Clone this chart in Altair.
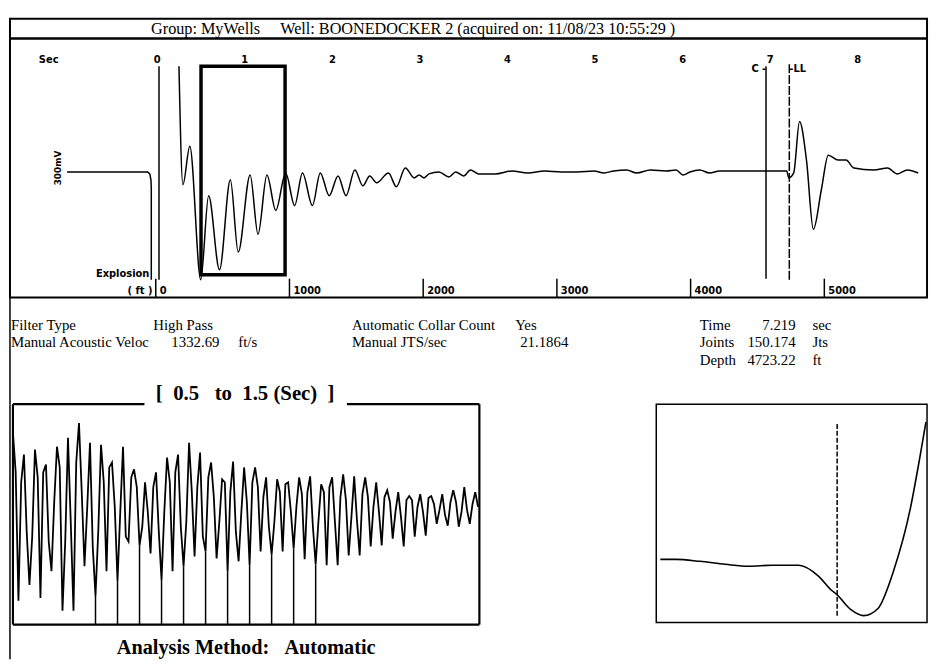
import altair as alt
import pandas as pd

SERIF = "Liberation Serif"
SANS = "DejaVu Sans"
NB = "\u00a0"

# ---------------- texts ----------------
header_text = "Group: MyWells" + NB * 5 + "Well: BOONEDOCKER 2 (acquired on: 11/08/23 10:55:29 )"
window_title = "[" + NB * 2 + "0.5" + NB * 3 + "to" + NB * 2 + "1.5" + NB + "(Sec)" + NB * 2 + "]"
method_title = "Analysis Method:" + NB * 3 + "Automatic"

info_text = ["Filter Type", "High Pass", "Automatic Collar Count", "Yes", "Time", "7.219", "sec",
             "Manual Acoustic Veloc", "1332.69", "ft/s", "Manual JTS/sec", "21.1864", "Joints", "150.174", "Jts",
             "Depth", "4723.22", "ft"]
info_col = [1, 145, 346, 533, 698, 795, 812, 1, 212, 231, 346, 565, 698, 795, 812, 698, 795, 812]
info_row = [28, 28, 28, 28, 28, 28, 28, 45, 45, 45, 45, 45, 45, 45, 45, 63, 63, 63]
info_align = ["left", "left", "left", "right", "left", "right", "left",
              "left", "right", "left", "left", "right", "left", "right", "left",
              "left", "right", "left"]

# ---------------- top acoustic trace (sec, mV-ish) ----------------
top_t = [0.248, 0.293, 0.372, 0.497, 0.587, 0.711, 0.835, 0.925, 1.061, 1.151,
         1.253, 1.354, 1.467, 1.569, 1.659, 1.772, 1.862, 1.964, 2.065, 2.156,
         2.257, 2.348, 2.427, 2.506, 2.641, 2.731, 2.833, 2.935, 2.991, 3.047,
         3.104, 3.217, 3.330, 3.409, 3.499, 3.578, 3.668, 3.860, 4.052, 4.233,
         4.424, 4.616, 4.797, 4.989, 5.102, 5.214, 5.361, 5.474, 5.632, 5.813,
         5.926, 6.005, 6.084, 6.196, 6.309, 6.422, 6.682, 6.941, 7.190, 7.212,
         7.269, 7.336, 7.415, 7.494, 7.585, 7.664, 7.777, 7.867, 7.957, 8.183,
         8.341, 8.454, 8.567, 8.691]
top_v = [107, -13, 26, -109, -24, -99, -8, -81, -3, -63,
         -3, -39, -1, -34, -1, -34, -1, -24, -4, -24,
         2, -14, -4, -11, -1, -15, 4, -6, -3, -6,
         -2, 0, -5, 0, -4, 2, -2, -2, 1, -1,
         1, 0, 0, 1, -1, 1, 2, -1, 2, 1,
         2, -3, 0, 2, -1, 1, 1, 1, 1, -6,
         -1, 51, 12, -58, -18, 17, 12, 12, 4, 2,
         4, -2, 2, -1]

expl_t = [-1.03, -0.11, -0.085, -0.072, -0.068, -0.068]
expl_v = [0, 0, -2, -8, -16, -109]

sec_ticks = [0, 1, 2, 3, 4, 5, 6, 7, 8]
depth_ticks = [0, 1000, 2000, 3000, 4000, 5000]
depth_ft_per_sec = 654.8     # depth scale of the lower axis
depth_offset_sec = -0.017

mark_t = [0.02, 6.953, 7.219]
mark_top = [107, 107, 109]
mark_bot = [-109, -108, -109]
mark_kind = ["solid", "solid", "dash"]

win_start, win_end = 0.5, 1.46

# ---------------- zoomed window trace (0.5 to 1.5 s) ----------------
lo_dt = 0.0472 / 8
lo_peaks = [80, 58, 63, 48, 66, 75, 90, 70, 68, 50, 66, 43, 30, 40, 55, 58, 70, 60, 50, 33,
            51, 45, 45, 35, 33, 30, 35, 36, 28, 35, 38, 36, 35, 30, 22, 20, 16, 18, 16, 18,
            22, 25, 20]
lo_mid_down = [40, -20, 35, -30, 45, -10, 20, -35, 30, 5, -25, 25, 0,
               -20, 30, -15, 20, -25, 15, 30, -20, 10, 25, -15, 20, 0, 18, -15, 20, -10,
               12, -8, 15, 0, 10, -5, 12, 0, 8, -3, 10, 2, 5]
lo_troughs = [-90, -74, -87, -60, -100, -100, -55, -85, -60, -70, -30, -34, -42, -69, -60,
              -55, -45, -40, -47, -60, -50, -54, -40, -43, -40, -37, -48, -53, -54, -54,
              -44, -44, -35, -34, -27, -35, -25, -24, -12, -14, -15, -12]
lo_mid_up = [30, -25, 40, 10, -30, 50, 5, -20, 45, 0, 35, -15,
             25, 0, 40, -10, 25, 35, -10, 20, 0, 30, 15, -10, 28, 5, 20, -10, 25,
             15, -5, 18, 5, 15, 0, 12, 5, 14, 2, 10, 0, 8]
collar_idx = [30, 38, 46, 54, 62, 70, 78, 86, 94, 102, 110]

# ---------------- right small panel ----------------
rc_x = [0.015, 0.073, 0.161, 0.255, 0.343, 0.427, 0.526, 0.599, 0.646, 0.668, 0.719, 0.766,
        0.818, 0.876, 0.938, 0.974, 0.996]
rc_y = [64, 64, 62, 59, 57, 58, 58, 47, 33, 28, 13, 7, 14, 52, 115, 168, 203]
rc_mark = 0.668

# =====================================================================
W = 928

header = alt.Chart(pd.DataFrame({"text": [header_text]})).mark_text(
    font=SERIF, fontSize=16.4, baseline="middle", align="center", color="black"
).encode(x=alt.value(408), y=alt.value(10), text="text:N").properties(
    width=W, height=20, view=alt.ViewBackground(stroke="black", strokeWidth=2))

# ---- top panel ----
XS = alt.Scale(domain=[-1.682, 8.792], nice=False, zero=False)
YS = alt.Scale(domain=[-127, 135], nice=False, zero=False)


def xs(f):
    return alt.X(f, scale=XS, axis=None)


def ys(f):
    return alt.Y(f, scale=YS, axis=None)


trace = alt.Chart(pd.DataFrame({"t": top_t, "v": top_v})).mark_line(
    color="black", strokeWidth=1.5, interpolate="monotone").encode(x=xs("t:Q"), y=ys("v:Q"))

expl = alt.Chart(pd.DataFrame({"t": expl_t, "v": expl_v, "k": list(range(len(expl_t)))})).mark_line(
    color="black", strokeWidth=1.5).encode(x=xs("t:Q"), y=ys("v:Q"), order="k:Q")

mk_df = pd.DataFrame({"t": mark_t, "top": mark_top, "bot": mark_bot, "kind": mark_kind})
mk_solid = alt.Chart(mk_df).transform_filter("datum.kind == 'solid'").mark_rule(
    color="black", strokeWidth=1.5).encode(x=xs("t:Q"), y=ys("top:Q"), y2="bot:Q")
mk_dash = alt.Chart(mk_df).transform_filter("datum.kind == 'dash'").mark_rule(
    color="black", strokeWidth=1.5, strokeDash=[9, 2]).encode(x=xs("t:Q"), y=ys("top:Q"), y2="bot:Q")

box = alt.Chart(pd.DataFrame({"a": [win_start], "b": [win_end], "top": [107], "bot": [-104]})).mark_rect(
    fill="transparent", stroke="black", strokeWidth=3.5).encode(x=xs("a:Q"), x2="b:Q", y=ys("top:Q"), y2="bot:Q")

sec_lab = alt.Chart(pd.DataFrame({"t": sec_ticks, "s": [str(s) for s in sec_ticks],
                                  "v": [113] * len(sec_ticks)})).mark_text(
    font=SANS, fontWeight="bold", fontSize=10, baseline="middle").encode(
    x=xs("t:Q"), y=ys("v:Q"), text="s:N")

small_txt = pd.DataFrame({
    "t": [-1.24, -0.09, 6.955, 7.219, -0.055],
    "v": [113, -103, 104, 104, -120],
    "s": ["Sec", "Explosion", "C -", "-LL", "( ft )"],
    "al": ["center", "right", "right", "left", "right"],
})
st_c = alt.Chart(small_txt).transform_filter("datum.al == 'center'").mark_text(
    font=SANS, fontWeight="bold", fontSize=10, baseline="middle", align="center").encode(
    x=xs("t:Q"), y=ys("v:Q"), text="s:N")
st_r = alt.Chart(small_txt).transform_filter("datum.al == 'right'").mark_text(
    font=SANS, fontWeight="bold", fontSize=10, baseline="middle", align="right").encode(
    x=xs("t:Q"), y=ys("v:Q"), text="s:N")
st_l = alt.Chart(small_txt).transform_filter("datum.al == 'left'").mark_text(
    font=SANS, fontWeight="bold", fontSize=10, baseline="middle", align="left").encode(
    x=xs("t:Q"), y=ys("v:Q"), text="s:N")

mv_lab = alt.Chart(pd.DataFrame({"t": [-1.13], "v": [4], "s": ["300mV"]})).mark_text(
    font=SANS, fontWeight="bold", fontSize=9, angle=270, baseline="middle", align="center").encode(
    x=xs("t:Q"), y=ys("v:Q"), text="s:N")

depth_df = pd.DataFrame({"d": depth_ticks, "s": [str(d) for d in depth_ticks],
                         "ta": [-108] * len(depth_ticks), "tb": [-127] * len(depth_ticks),
                         "ly": [-120] * len(depth_ticks)})
depth_base = alt.Chart(depth_df).transform_calculate(
    td=f"datum.d / {depth_ft_per_sec} + ({depth_offset_sec})")
depth_rule = depth_base.mark_rule(color="black", strokeWidth=1.5).encode(
    x=xs("td:Q"), y=ys("ta:Q"), y2="tb:Q")
depth_lab = depth_base.mark_text(
    font=SANS, fontWeight="bold", fontSize=10, baseline="middle", align="left", dx=4).encode(
    x=xs("td:Q"), y=ys("ly:Q"), text="s:N")

top = alt.layer(trace, expl, mk_solid, mk_dash, box, sec_lab, st_c, st_r, st_l, mv_lab,
                depth_rule, depth_lab).properties(
    width=W, height=262, view=alt.ViewBackground(stroke="black", strokeWidth=2))

# ---- info block ----
IX = alt.Scale(domain=[0, W], nice=False, zero=False)
IY = alt.Scale(domain=[0, 108], nice=False, zero=False, reverse=True)
info_df = pd.DataFrame({"s": info_text, "x": info_col, "y": info_row, "al": info_align})
info_l = alt.Chart(info_df).transform_filter("datum.al == 'left'").mark_text(
    font=SERIF, fontSize=15, baseline="middle", align="left", color="black").encode(
    x=alt.X("x:Q", scale=IX, axis=None), y=alt.Y("y:Q", scale=IY, axis=None), text="s:N")
info_r = alt.Chart(info_df).transform_filter("datum.al == 'right'").mark_text(
    font=SERIF, fontSize=15, baseline="middle", align="right", color="black").encode(
    x=alt.X("x:Q", scale=IX, axis=None), y=alt.Y("y:Q", scale=IY, axis=None), text="s:N")
win_lab = alt.Chart(pd.DataFrame({"x": [238], "y": [98], "s": [window_title]})).mark_text(
    font=SERIF, fontSize=21, fontWeight="bold", baseline="middle", align="center").encode(
    x=alt.X("x:Q", scale=IX, axis=None), y=alt.Y("y:Q", scale=IY, axis=None), text="s:N")
info_edge = alt.Chart(pd.DataFrame({"x": [0], "y": [0], "y2": [108]})).mark_rule(
    color="black", strokeWidth=1.5).encode(
    x=alt.X("x:Q", scale=IX, axis=None), y=alt.Y("y:Q", scale=IY, axis=None), y2="y2:Q")
info = alt.layer(info_edge, info_l, info_r, win_lab).properties(width=W, height=108)

# ---- bottom left window panel ----
lo_v = []
for k in range(len(lo_peaks)):
    lo_v.append(lo_peaks[k])
    lo_v.append(lo_mid_down[k])
    if k < len(lo_troughs):
        lo_v.append(lo_troughs[k])
        lo_v.append(lo_mid_up[k])
lo_t = [0.5 + i * lo_dt for i in range(len(lo_v))]
LX = alt.Scale(domain=[0.5, 1.5], nice=False, zero=False)
LY = alt.Scale(domain=[-114, 109], nice=False, zero=False)

lo_line = alt.Chart(pd.DataFrame({"t": lo_t, "v": lo_v})).mark_line(
    color="black", strokeWidth=1.8).encode(
    x=alt.X("t:Q", scale=LX, axis=None), y=alt.Y("v:Q", scale=LY, axis=None))
collar_df = pd.DataFrame({"t": [lo_t[i] for i in collar_idx], "top": [lo_v[i] for i in collar_idx],
                          "bot": [-114] * len(collar_idx)})
collars = alt.Chart(collar_df).mark_rule(color="black", strokeWidth=1.5).encode(
    x=alt.X("t:Q", scale=LX, axis=None), y=alt.Y("top:Q", scale=LY, axis=None), y2="bot:Q")
frame_df = pd.DataFrame({"x": [0.5, 1.5, 0.5, 0.5, 1.216], "x2": [0.5, 1.5, 1.5, 0.782, 1.5],
                         "y": [-114, -114, -114, 109, 109], "y2": [109, 109, -114, 109, 109]})
frame = alt.Chart(frame_df).mark_rule(color="black", strokeWidth=2.2).encode(
    x=alt.X("x:Q", scale=LX, axis=None), x2="x2:Q",
    y=alt.Y("y:Q", scale=LY, axis=None), y2="y2:Q")
left = alt.layer(lo_line, collars, frame).properties(
    width=472, height=223,
    title=alt.TitleParams(method_title, orient="bottom", anchor="middle", font=SERIF,
                          fontSize=20.5, fontWeight="bold", color="black", offset=13))

# ---- bottom right panel ----
RX = alt.Scale(domain=[0, 1], nice=False, zero=False)
RY = alt.Scale(domain=[0, 221], nice=False, zero=False)
rc_line = alt.Chart(pd.DataFrame({"x": rc_x, "y": rc_y})).mark_line(
    color="black", strokeWidth=1.6, interpolate="monotone").encode(
    x=alt.X("x:Q", scale=RX, axis=None), y=alt.Y("y:Q", scale=RY, axis=None))
rc_rule = alt.Chart(pd.DataFrame({"x": [rc_mark], "a": [7], "b": [203]})).mark_rule(
    color="black", strokeWidth=1.5, strokeDash=[5, 2]).encode(
    x=alt.X("x:Q", scale=RX, axis=None), y=alt.Y("a:Q", scale=RY, axis=None), y2="b:Q")
right = alt.layer(rc_line, rc_rule).properties(
    width=274, height=221, view=alt.ViewBackground(stroke="black", strokeWidth=1.5))

# ---- spacers ----
SY = alt.Scale(domain=[0, 258], nice=False, zero=False)
sp1 = alt.Chart(pd.DataFrame({"x": [0], "y": [0], "y2": [258]})).mark_rule(
    color="black", strokeWidth=1.5).encode(
    x=alt.X("x:Q", scale=alt.Scale(domain=[0, 3]), axis=None),
    y=alt.Y("y:Q", scale=SY, axis=None), y2="y2:Q").properties(width=3, height=258)
sp2 = alt.Chart(pd.DataFrame({"x": [0], "y": [0]})).mark_point(opacity=0).encode(
    x=alt.X("x:Q", axis=None), y=alt.Y("y:Q", axis=None)).properties(width=179, height=10)

bottom = alt.hconcat(sp1, left, sp2, right, spacing=0, bounds="flush")

chart = alt.vconcat(header, top, info, bottom, spacing=0, bounds="flush").properties(
    padding={"left": 1, "top": 6, "right": 0, "bottom": 0},
    background="white",
).configure_view(stroke=None)

chart.save("out.html", embed_options={"renderer": "svg", "actions": False})
